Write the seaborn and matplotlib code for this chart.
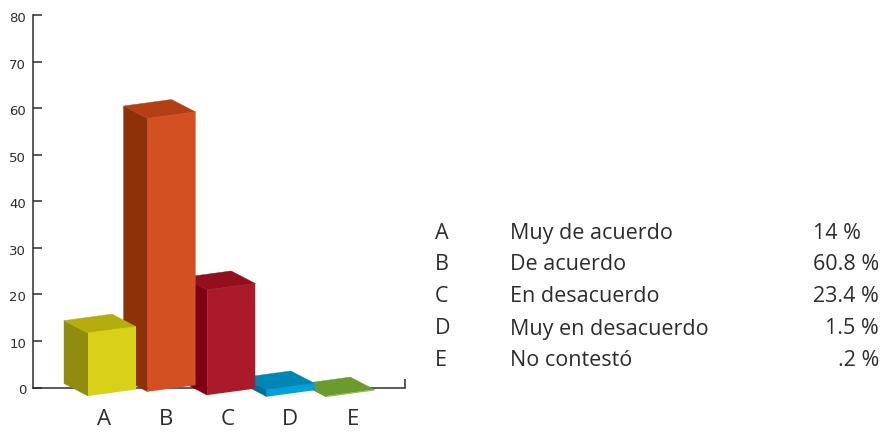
import matplotlib
matplotlib.use('Agg')

import numpy as np
import pandas as pd
import seaborn as sns
import matplotlib.pyplot as plt
from matplotlib.transforms import Affine2D

letras = ['A', 'B', 'C', 'D', 'E']
respuestas = ['Muy de acuerdo', 'De acuerdo', 'En desacuerdo',
              'Muy en desacuerdo', 'No contestó']
valores = [14, 60.8, 23.4, 1.5, 0.2]
porcentajes = ['14 %', '60.8 %', '23.4 %', '1.5 %', '.2 %']
y_ticks = [0, 10, 20, 30, 40, 50, 60, 70, 80]

color_frente = ['#d8d118', '#d35023', '#aa1a29', '#00a0d8', '#8fbf50']
color_lado = ['#8f8c10', '#8e3008', '#7c0012', '#006f9d', '#5d8a28']
color_tapa = ['#b5ad0e', '#b53f14', '#920f1e', '#0086b5', '#6b9b2e']

W, H = 885, 434
TINTA = '#2f2c2d'

# axis frame in pixels of the image
X0, X1, Y0, Y80 = 32.5, 405.0, 387.5, 15.0
PX_X = 59.6  # px per category
PX_Y = (Y0 - Y80) / 80  # px per unit
CENTRO_A = 112.0

# oblique projection, px
FONDO_X, FONDO_Y = 24.0, 12.5
PENDIENTE = 6.5 / 48  # rise of the front face
BASE = [8.5, 4.2, 7.6, 9.2, 9.5]  # how far below the axis each front starts
ALTO = 0.965  # drawn height vs the axis scale

sns.set_theme(style='ticks')
plt.rcParams['font.family'] = ['Open Sans', 'DejaVu Sans']

fig = plt.figure(figsize=(W / 100, H / 100), dpi=100)
ax = fig.add_axes([X0 / W, 1 - Y0 / H, (X1 - X0) / W, (Y0 - Y80) / H])

df = pd.DataFrame({'letra': letras, 'altura': np.array(valores) * ALTO})
sns.barplot(data=df, x='letra', y='altura', hue='letra', hue_order=letras,
            palette=color_frente, width=48 / PX_X, saturation=1,
            legend=False, linewidth=0, ax=ax)

dx = FONDO_X / PX_X
dy = FONDO_Y / PX_Y
k = PENDIENTE * PX_X / PX_Y  # slope in data units

for i, p in enumerate(ax.patches):
    x, w, h = p.get_x(), p.get_width(), p.get_height()
    b = -BASE[i] / PX_Y
    z = 10 - i
    # front face: the seaborn bar, sheared
    p.set_transform(Affine2D.from_values(1, k, 0, 1, 0, b - k * x) + ax.transData)
    p.set_clip_on(False)
    p.set_zorder(z + 0.2)
    # left side
    ax.fill([x, x, x - dx, x - dx], [b, b + h, b + h + dy, b + dy],
            color=color_lado[i], lw=0.3, clip_on=False, zorder=z)
    # top
    top = b + h
    ax.fill([x, x + w, x + w - dx, x - dx],
            [top, top + k * w, top + k * w + dy, top + dy],
            color=color_tapa[i], lw=0.3, clip_on=False, zorder=z + 0.1)
    # thin light edge along the top front
    ax.plot([x, x + w], [top, top + k * w], color=color_frente[i], lw=0.7,
            alpha=0.7, clip_on=False, zorder=z + 0.3, solid_capstyle='butt')

ax.set_xlim((X0 - CENTRO_A) / PX_X, (X1 - CENTRO_A) / PX_X)
ax.set_ylim(0, 80)
ax.set_xlabel('')
ax.set_ylabel('')

# the letters below are spaced wider than the bars
pos_letras = (np.array([104, 166, 228, 290, 353]) - CENTRO_A) / PX_X
ax.set_xticks(pos_letras, letras)
ax.set_xticks([ax.get_xlim()[1]], minor=True)
ax.set_yticks(y_ticks)

ax.tick_params(axis='x', which='major', length=0, pad=15.5, labelsize=16,
               labelcolor=TINTA)
ax.tick_params(axis='x', which='minor', direction='in', length=6.5, width=1.1,
               color=TINTA)
ax.tick_params(axis='y', direction='in', length=6.5, width=1.1, color=TINTA,
               pad=4.5, labelcolor=TINTA)

for t in ax.get_yticklabels():
    t.set_family('DejaVu Sans')
    t.set_fontsize(9.5)
    t.set_transform(t.get_transform() + Affine2D().translate(0, -2))

sns.despine(ax=ax)
for s in ['left', 'bottom']:
    ax.spines[s].set_color(TINTA)
    ax.spines[s].set_linewidth(1.1)

# table on the right
filas_base = [238.5, 270.5, 302.5, 334.5, 366.5]
fin_pct = [861, 879, 879, 879, 879]
for i, fy in enumerate(filas_base):
    yf = 1 - fy / H
    fig.text(435 / W, yf, letras[i], fontsize=15.5, color=TINTA, va='baseline')
    fig.text(510 / W, yf, respuestas[i], fontsize=15.5, color=TINTA, va='baseline')
    fig.text(fin_pct[i] / W, yf, porcentajes[i], fontsize=15.5, color=TINTA,
             va='baseline', ha='right')

fig.savefig('out.png', dpi=100)
